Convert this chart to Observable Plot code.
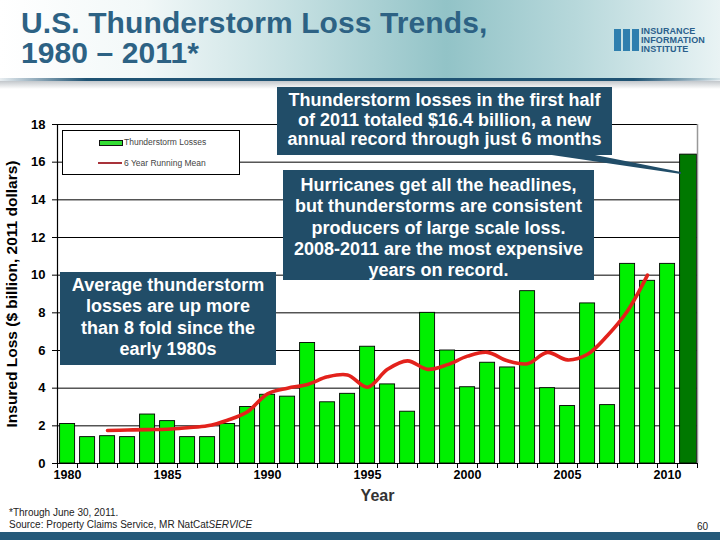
<!DOCTYPE html>
<html>
<head>
<meta charset="utf-8">
<script src="https://cdn.jsdelivr.net/npm/d3@7"></script>
<script src="https://cdn.jsdelivr.net/npm/@observablehq/plot@0.6"></script>
<style>
  html, body { margin: 0; padding: 0; background: #fff; }
  #wrap { position: relative; width: 720px; height: 540px; overflow: hidden; font-family: "Liberation Sans", Arial, sans-serif; background: #fff; }
  #header { position: absolute; left: 0; top: 0; width: 720px; height: 80px;
    background: linear-gradient(90deg, #ffffff 0%, #f2f8f8 20%, #c2dee0 42%, #92c3c7 62%, #b7d8db 80%, #e9f3f4 100%); }
  #title { position: absolute; left: 21px; top: 8px; font-size: 30px; font-weight: bold; line-height: 30px; color: #2d6284; letter-spacing: 0.1px; }
  #rule { position: absolute; left: 0; top: 78px; width: 720px; height: 3px;
    background: linear-gradient(90deg, rgba(31,83,115,0.1) 0%, #1f5373 12%, #1f5373 88%, rgba(31,83,115,0.1) 100%); }
  #shadow { position: absolute; left: 0; top: 81px; width: 720px; height: 8px;
    background: linear-gradient(180deg, rgba(120,130,140,0.45), rgba(255,255,255,0)); }
  #logo { position: absolute; left: 612px; top: 27px; width: 100px; height: 28px; }
  #logo .mark { position: absolute; top: 2px; width: 7px; height: 22px; background: #2f7fae; }
  #logo .txt { position: absolute; left: 29px; top: 0; font-size: 9px; font-weight: bold; line-height: 9px; color: #2a5f8c; letter-spacing: 0.1px; }
  #chart { position: absolute; left: 0; top: 84px; }
  .box { position: absolute; background: #214d68; color: #fff; font-weight: bold; text-align: center; font-size: 18px; box-sizing: border-box; }
  #legend { position: absolute; left: 62px; top: 130px; width: 178px; height: 45px; background: #fff; border: 1px solid #000; box-sizing: border-box; }
  #legend .t { position: absolute; left: 61px; font-size: 8.5px; color: #444; }
  #footer1 { position: absolute; left: 9px; top: 507px; font-size: 10px; color: #222; }
  #footer2 { position: absolute; left: 9px; top: 519px; font-size: 10px; color: #222; }
  #page { position: absolute; left: 697px; top: 521px; font-size: 10px; color: #222; }
  #bottombar { position: absolute; left: 0; top: 532px; width: 720px; height: 8px; background: #265a7a; }
  #pointer { position: absolute; left: 0; top: 0; }
</style>
</head>
<body>
<div id="wrap">
  <div id="header">
    <div id="title">U.S. Thunderstorm Loss Trends,<br>1980 – 2011*</div>
    <div id="logo">
      <div class="mark" style="left:2px"></div>
      <div class="mark" style="left:11px"></div>
      <div class="mark" style="left:20px"></div>
      <div class="txt">INSURANCE<br>INFORMATION<br>INSTITUTE</div>
    </div>
  </div>
  <div id="rule"></div>
  <div id="shadow"></div>
</div>
<script>
// ---- data ----
const years = [1980,1981,1982,1983,1984,1985,1986,1987,1988,1989,1990,1991,1992,1993,1994,1995,1996,1997,1998,1999,2000,2001,2002,2003,2004,2005,2006,2007,2008,2009,2010,2011];
const losses = [2.1,1.4,1.45,1.4,2.6,2.25,1.4,1.4,2.1,3.0,3.65,3.55,6.4,3.25,3.7,6.2,4.2,2.75,8.0,6.0,4.05,5.35,5.1,9.15,4.0,3.05,8.5,3.1,10.6,9.7,10.6,16.4];
const meanYears = [1982,1983,1984,1985,1986,1987,1988,1989,1990,1991,1992,1993,1994,1995,1996,1997,1998,1999,2000,2001,2002,2003,2004,2005,2006,2007,2008,2009];
const meanValues = [1.75,1.78,1.8,1.82,1.9,2.0,2.3,2.75,3.7,4.0,4.2,4.6,4.7,4.05,5.0,5.45,5.0,5.25,5.7,5.9,5.45,5.3,5.9,5.5,5.8,6.8,8.1,10.0];
const yTicks = [0,2,4,6,8,10,12,14,16,18];
const xLabelYears = [1980,1985,1990,1995,2000,2005,2010];
const partialYear = 2011;
const yTitle = "Insured Loss ($ billion, 2011 dollars)";
const xTitle = "Year";
const legendLabels = ["Thunderstorm Losses", "6 Year Running Mean"];
const notes = [
  "Thunderstorm losses in the first half<br>of 2011 totaled $16.4 billion, a new<br>annual record through just 6 months",
  "Hurricanes get all the headlines,<br>but thunderstorms are consistent<br>producers of large scale loss.<br>2008-2011 are the most expensive<br>years on record.",
  "Average thunderstorm<br>losses are up more<br>than 8 fold since the<br>early 1980s"
];
const footnote = "*Through June 30, 2011.";
const source = "Source: Property Claims Service, MR NatCat<i>SERVICE</i>";
const pageNo = "60";

// ---- build ----
const bars = years.map((y, i) => ({year: y, loss: losses[i]}));
const mean = meanYears.map((y, i) => ({year: y, value: meanValues[i]}));
const boundaries = d3.range(years[0] - 0.5, years[years.length - 1] + 1, 1);

const chart = Plot.plot({
  width: 720,
  height: 436,
  marginTop: 40,
  marginBottom: 57,
  marginLeft: 57,
  marginRight: 23,
  x: {domain: [years[0] - 0.5, years[years.length - 1] + 0.5]},
  y: {domain: [0, 18]},
  style: {fontFamily: "'Liberation Sans', Arial, sans-serif", background: "transparent", overflow: "visible"},
  marks: [
    Plot.ruleY(yTicks.filter(d => d > 0), {stroke: "#000", strokeWidth: 1}),
    Plot.rectY(bars.filter(d => d.year !== partialYear), {x1: d => d.year - 0.5, x2: d => d.year + 0.5, y1: 0, y2: "loss", insetLeft: 2.6, insetRight: 2.4, fill: "#00f000", stroke: "#000", strokeWidth: 0.9}),
    Plot.rectY(bars.filter(d => d.year === partialYear), {x1: d => d.year - 0.5, x2: d => d.year + 0.5, y1: 0, y2: "loss", insetLeft: 2.6, insetRight: 0.5, fill: "#007800", stroke: "#000", strokeWidth: 0.9}),
    Plot.lineY(mean, {x: "year", y: "value", stroke: "#e3221c", strokeWidth: 3.6, curve: "catmull-rom"}),
    Plot.ruleX([years[years.length - 1] + 0.5], {stroke: "#999", strokeWidth: 1.5}),
    Plot.ruleX([years[0] - 0.5], {stroke: "#000", strokeWidth: 1.2}),
    Plot.ruleY([0], {stroke: "#000", strokeWidth: 1.2}),
    Plot.axisY({ticks: yTicks, tickSize: 5, tickPadding: 7, label: null, fontWeight: "bold", fontSize: 13, tickFormat: d => String(d)}),
    Plot.axisX({ticks: boundaries, tickSize: 5, tickFormat: () => "", label: null}),
    Plot.axisX({ticks: xLabelYears, tickSize: 0, tickPadding: 7, label: null, fontWeight: "bold", fontSize: 12.5, tickFormat: d => String(d)}),
    Plot.text([yTitle], {frameAnchor: "left", dx: -45, rotate: -90, textAnchor: "middle", fontSize: 15.5, fontWeight: "bold", fill: "#000", text: d => d}),
    Plot.text([xTitle], {frameAnchor: "bottom", dy: 37, fontSize: 16, fontWeight: "bold", fill: "#333", text: d => d})
  ]
});
chart.id = "chart";
const wrap = document.getElementById("wrap");
wrap.appendChild(chart);

// legend
const legend = document.createElement("div");
legend.id = "legend";
legend.innerHTML =
  `<div style="position:absolute;left:36px;top:9px;width:22px;height:4px;background:#33dd33;border:1px solid #111"></div>
   <div class="t" style="top:6px">${legendLabels[0]}</div>
   <div style="position:absolute;left:35px;top:31px;width:24px;height:2px;background:#a8323a"></div>
   <div class="t" style="top:27px">${legendLabels[1]}</div>`;
wrap.appendChild(legend);

// callout pointer
const ns = "http://www.w3.org/2000/svg";
const ptr = document.createElementNS(ns, "svg");
ptr.setAttribute("id", "pointer");
ptr.setAttribute("width", 720);
ptr.setAttribute("height", 540);
ptr.innerHTML = `<polygon points="545,154 590,154 681,172 681,174" fill="#214d68"/>`;
wrap.appendChild(ptr);

// annotation boxes
const boxes = [
  {left: 277, top: 87, width: 335, height: 68, lh: 19.5, pt: 4, html: notes[0]},
  {left: 283, top: 170, width: 311, height: 110, lh: 21.3, pt: 5, html: notes[1]},
  {left: 60, top: 272, width: 216, height: 93, lh: 21.3, pt: 3, html: notes[2]}
];
boxes.forEach(b => {
  const d = document.createElement("div");
  d.className = "box";
  d.style.left = b.left + "px";
  d.style.top = b.top + "px";
  d.style.width = b.width + "px";
  d.style.height = b.height + "px";
  d.style.lineHeight = b.lh + "px";
  d.style.paddingTop = b.pt + "px";
  d.innerHTML = b.html;
  wrap.appendChild(d);
});

// footer
[["footer1", footnote], ["footer2", source], ["page", pageNo], ["bottombar", ""]].forEach(([id, html]) => {
  const d = document.createElement("div");
  d.id = id;
  d.innerHTML = html;
  wrap.appendChild(d);
});
</script>
</body>
</html>
